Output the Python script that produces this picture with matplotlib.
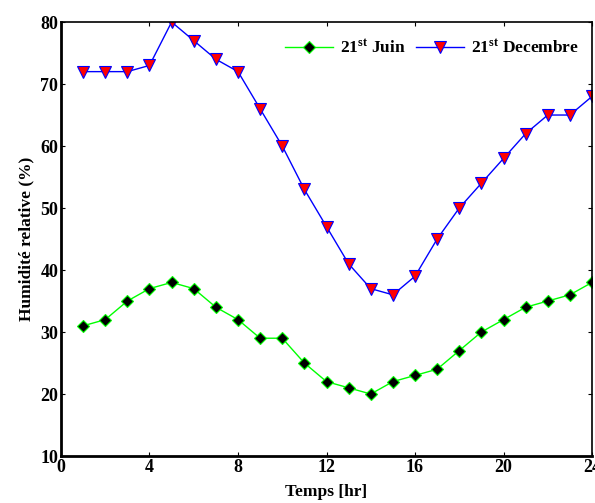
import matplotlib
matplotlib.use("Agg")
import matplotlib.pyplot as plt

# heures de la journee
heures = list(range(1, 25))
# humidite relative (%)
juin = [31, 32, 35, 37, 38, 37, 34, 32, 29, 29, 25, 22,
        21, 20, 22, 23, 24, 27, 30, 32, 34, 35, 36, 38]
decembre = [72, 72, 72, 73, 80, 77, 74, 72, 66, 60, 53, 47,
            41, 37, 36, 39, 45, 50, 54, 58, 62, 65, 65, 68]
xticks = [0, 4, 8, 12, 16, 20, 24]
yticks = [10, 20, 30, 40, 50, 60, 70, 80]

plt.rcParams['font.family'] = ['Liberation Serif', 'DejaVu Serif']
plt.rcParams['font.weight'] = 'bold'
plt.rcParams['mathtext.fontset'] = 'custom'
plt.rcParams['mathtext.rm'] = 'Liberation Serif:bold'
plt.rcParams['mathtext.it'] = 'Liberation Serif:bold'

fig = plt.figure(figsize=(5.95, 5.03), dpi=100)
ax = fig.add_axes([0.1025, 0.0934, 0.8925, 0.8628])

ax.plot(heures, juin, color='#00ff00', lw=1, marker='D', ms=6,
        mfc='black', mec='#00ff00', mew=0.8, label='21$^{st}$ Juin')
ax.plot(heures, decembre, color='blue', lw=1, marker='v', ms=9,
        mfc='red', mec='blue', mew=0.8, label='21$^{st}$ Decembre')

ax.set_xlim(0, 24)
ax.set_ylim(10, 80)
ax.set_xticks(xticks)
ax.set_yticks(yticks)
ax.tick_params(direction='in', top=True, right=True, labelsize=13,
               length=3, pad=2)
for lab in ax.get_xticklabels() + ax.get_yticklabels():
    lab.set_fontweight('bold')
ax.spines['left'].set_linewidth(2)
ax.spines['bottom'].set_linewidth(2)
ax.spines['top'].set_linewidth(1.2)
ax.spines['right'].set_linewidth(1.2)

ax.set_xlabel("Temps [hr]", fontsize=12.5, fontweight='bold', labelpad=6)
ax.set_ylabel("Humidité relative (%)", fontsize=12.5, fontweight='bold',
              labelpad=4)

leg = ax.legend(loc='center right', bbox_to_anchor=(0.975, 0.94), ncol=2,
                frameon=False, handlelength=2.75, columnspacing=0.6,
                handletextpad=0.4, borderaxespad=0, borderpad=0,
                prop={'weight': 'bold', 'size': 12.5})

fig.savefig("out.png", dpi=100)
